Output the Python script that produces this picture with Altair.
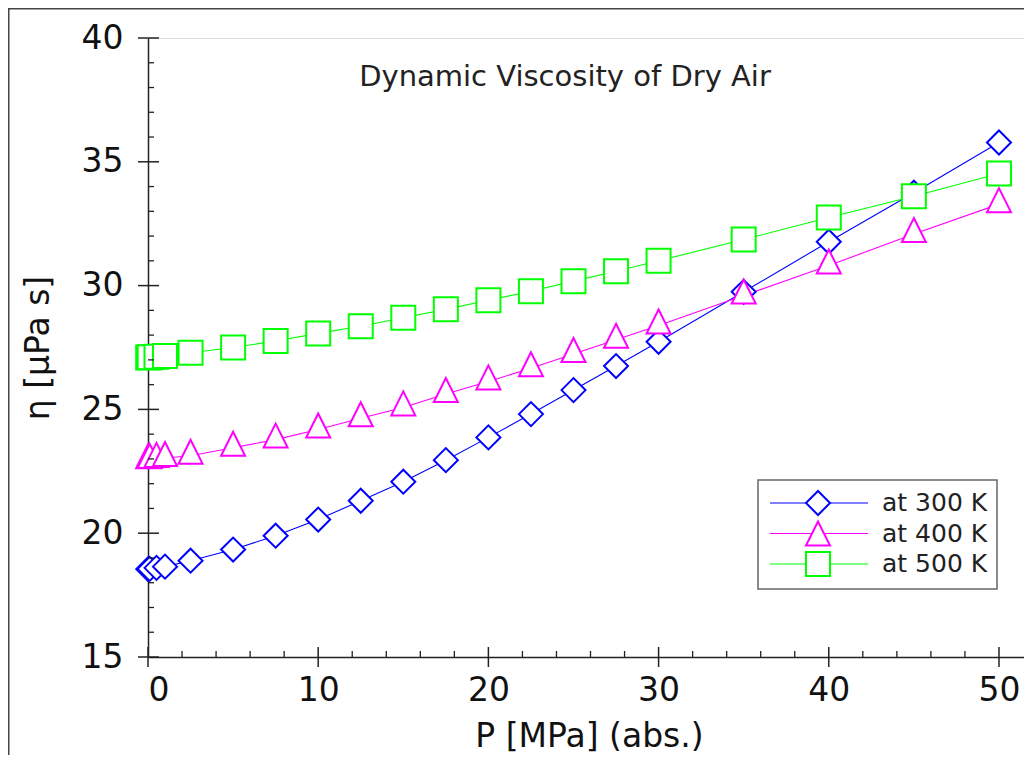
import altair as alt
import pandas as pd

# ---- data ----
pressure = [0.01, 0.1, 0.5, 1.0, 2.5, 5.0, 7.5, 10, 12.5, 15, 17.5, 20, 22.5, 25, 27.5, 30, 35, 40, 45, 50]
eta_300 = [18.55, 18.56, 18.60, 18.65, 18.89, 19.34, 19.90, 20.55, 21.31, 22.08, 22.95, 23.87,
           24.81, 25.78, 26.75, 27.73, 29.75, 31.77, 33.75, 35.78]
eta_400 = [22.95, 22.96, 23.00, 23.04, 23.13, 23.45, 23.78, 24.19, 24.64, 25.08, 25.62, 26.13,
           26.66, 27.24, 27.81, 28.39, 29.60, 30.81, 32.08, 33.29]
eta_500 = [27.10, 27.11, 27.13, 27.16, 27.29, 27.50, 27.76, 28.07, 28.36, 28.70, 29.04, 29.41,
           29.77, 30.18, 30.58, 31.00, 31.86, 32.75, 33.61, 34.53]

series_names = ["at 300 K", "at 400 K", "at 500 K"]
series_colors = ["#0000ff", "#ff00ff", "#00ff00"]

x_major = [0, 10, 20, 30, 40, 50]
x_minor = [2, 4, 6, 8, 12, 14, 16, 18, 22, 24, 26, 28, 32, 34, 36, 38, 42, 44, 46, 48]
y_major = [15, 20, 25, 30, 35, 40]
y_minor = [16, 17, 18, 19, 21, 22, 23, 24, 26, 27, 28, 29, 31, 32, 33, 34, 36, 37, 38, 39]

title_text = "Dynamic Viscosity of Dry Air"
x_title = "P [MPa] (abs.)"
y_title = "η [μPa s]"

# ---- styling ----
FONT = "DejaVu Sans"
W, H = 876, 619
PAD_L, PAD_T, PAD_R, PAD_B = 140, 30, 0, 98
DIAMOND = "M-1,0L0,-1L1,0L0,1Z"
TRIANGLE = "M0,-1.333L-1,0.667L1,0.667Z"
TRIANGLE_LEG = "M0,-1L-1,1L1,1Z"
SQUARE = "M-1,-1L1,-1L1,1L-1,1Z"
shapes = [DIAMOND, TRIANGLE, SQUARE]
legend_shapes = [DIAMOND, TRIANGLE_LEG, SQUARE]
MSIZE = 576

rows = []
for name, vals in zip(series_names, [eta_300, eta_400, eta_500]):
    for i, (p, v) in enumerate(zip(pressure, vals)):
        rows.append({"series": name, "P": p, "eta": v, "idx": i})
df = pd.DataFrame(rows)

xscale = alt.Scale(domain=[0, 51.47], nice=False, zero=False)
yscale = alt.Scale(domain=[15, 40], nice=False, zero=False)
cscale = alt.Scale(domain=series_names, range=series_colors)
sscale = alt.Scale(domain=series_names, range=shapes)

x_enc = alt.X("P:Q", scale=xscale, axis=alt.Axis(
    values=x_major, ticks=False, grid=False, labelFontSize=33, labelFont=FONT,
    labelColor="#111", labelPadding=17, domainColor="#222", domainWidth=1.5,
    title=x_title, titleFont=FONT, titleFontSize=33, titleFontWeight="normal",
    titleColor="#111", titleBaseline="alphabetic", titleY=89, titleX=441,
    titleAlign="center"))
y_enc = alt.Y("eta:Q", scale=yscale, axis=alt.Axis(
    values=y_major, ticks=False, grid=False, labelFontSize=33, labelFont=FONT,
    labelColor="#111", labelPadding=25, domainColor="#222", domainWidth=1.5,
    title=y_title, titleFont=FONT, titleFontSize=33, titleFontWeight="normal",
    titleColor="#111", titleBaseline="alphabetic", titleAngle=270, titleX=-100,
    titleY=H / 2, titleAlign="center"))

lines = alt.Chart(df).mark_line(strokeWidth=1.1).encode(
    x=x_enc, y=y_enc,
    color=alt.Color("series:N", scale=cscale, legend=None),
    order="idx:Q",
)
points = alt.Chart(df).mark_point(filled=True, size=MSIZE, strokeWidth=2, opacity=1).encode(
    x="P:Q", y="eta:Q",
    fill=alt.value("white"),
    stroke=alt.Stroke("series:N", scale=cscale, legend=None),
    shape=alt.Shape("series:N", scale=sscale, legend=None),
)

# tick marks (major ticks cross the axis, minor ticks point inward)
tick_color = "#222"
ymaj = alt.Chart(pd.DataFrame({"t": y_major})).mark_rule(color=tick_color, strokeWidth=1.5).encode(
    y="t:Q", x=alt.value(-10), x2=alt.value(11))
ymin = alt.Chart(pd.DataFrame({"t": y_minor})).mark_rule(color=tick_color, strokeWidth=1.3).encode(
    y="t:Q", x=alt.value(0), x2=alt.value(6))
xmaj = alt.Chart(pd.DataFrame({"t": x_major})).mark_rule(color=tick_color, strokeWidth=1.5).encode(
    x="t:Q", y=alt.value(H - 10), y2=alt.value(H + 10))
xmin = alt.Chart(pd.DataFrame({"t": x_minor})).mark_rule(color=tick_color, strokeWidth=1.3).encode(
    x="t:Q", y=alt.value(H - 6), y2=alt.value(H))

one = alt.Data(values=[{}])
title = alt.Chart(one).mark_text(font=FONT, fontSize=29, color="#222", align="center",
                                 baseline="alphabetic").encode(
    x=alt.value(417), y=alt.value(48), text=alt.value(title_text))

# outer figure frame (top and left edges visible)
frame_top = alt.Chart(one).mark_rule(color="#444", strokeWidth=1.5).encode(
    x=alt.value(-PAD_L), x2=alt.value(W + PAD_R), y=alt.value(-PAD_T + 0.75))
frame_left = alt.Chart(one).mark_rule(color="#444", strokeWidth=1.5).encode(
    x=alt.value(-PAD_L + 0.75), y=alt.value(-PAD_T), y2=alt.value(H + PAD_B))

# custom legend
legend_layers = [alt.Chart(one).mark_rect(fill="white", stroke="#666", strokeWidth=1.5).encode(
    x=alt.value(610), x2=alt.value(849), y=alt.value(442), y2=alt.value(551))]
for i, (name, col, shp) in enumerate(zip(series_names, series_colors, legend_shapes)):
    ry = 465 + i * 30.5
    legend_layers.append(alt.Chart(one).mark_rule(color=col, strokeWidth=1.2).encode(
        x=alt.value(622), x2=alt.value(720), y=alt.value(ry)))
    legend_layers.append(alt.Chart(one).mark_point(
        shape=shp, size=MSIZE, filled=True, fill="white", stroke=col, strokeWidth=2, opacity=1
    ).encode(x=alt.value(670), y=alt.value(ry)))
    legend_layers.append(alt.Chart(one).mark_text(
        font=FONT, fontSize=25, color="#222", align="left", baseline="middle"
    ).encode(x=alt.value(734), y=alt.value(ry), text=alt.value(name)))

chart = alt.layer(
    lines, points, ymaj, ymin, xmaj, xmin, title, frame_top, frame_left, *legend_layers
).properties(
    width=W, height=H,
    padding={"left": PAD_L, "top": PAD_T, "right": PAD_R, "bottom": PAD_B},
    autosize=alt.AutoSizeParams(type="none"),
).configure_view(
    stroke="#777", strokeWidth=1.5
).configure(font=FONT, background="white")

chart.save("out.html", embed_options={"renderer": "svg", "actions": False})
